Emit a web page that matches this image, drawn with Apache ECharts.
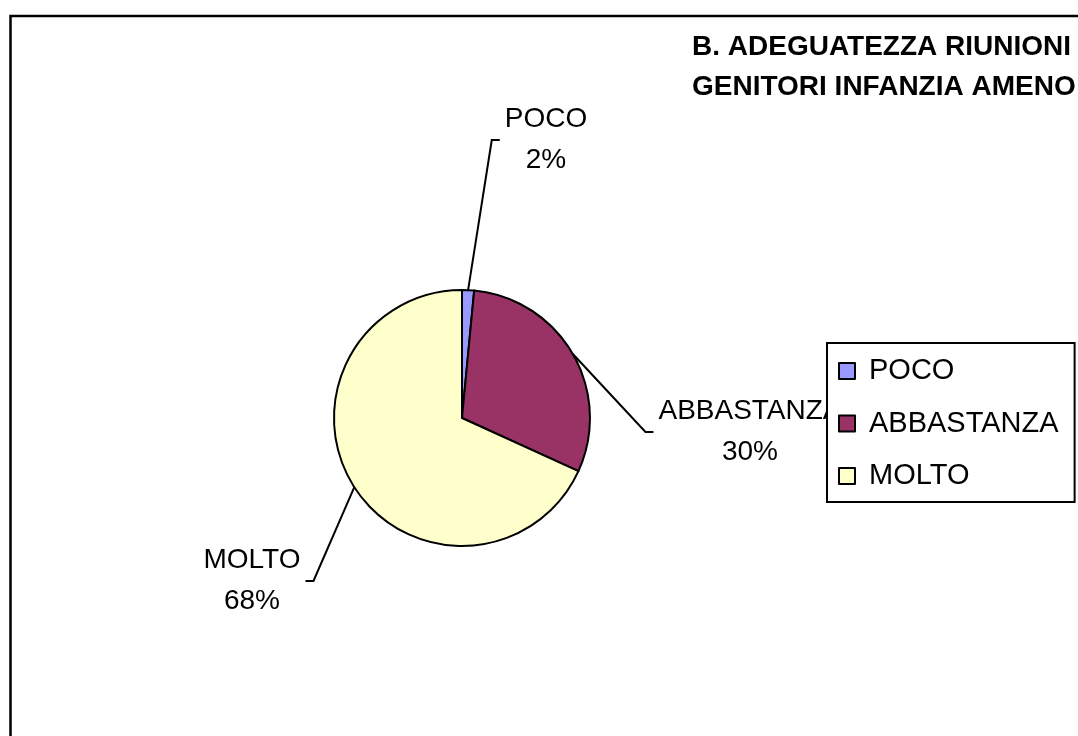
<!DOCTYPE html>
<html>
<head>
<meta charset="utf-8">
<script src="https://cdn.jsdelivr.net/npm/echarts@6/dist/echarts.min.js"></script>
<style>
  html, body { margin: 0; padding: 0; background: #fff; }
  #chart { width: 1078px; height: 736px; }
</style>
</head>
<body>
<div id="chart"></div>
<script>
// ---- data ----
var categories = ['POCO', 'ABBASTANZA', 'MOLTO'];
var values = [1, 20, 45];
var colors = ['#9999FF', '#993366', '#FFFFCC'];
var titleLines = ['B. ADEGUATEZZA RIUNIONI', 'GENITORI INFANZIA AMENO'];

// ---- layout / style ----
var CENTER = [462, 418];
var RADIUS = 128;
var START_ANGLE = 90;
var FONT = '"Liberation Sans", Arial, sans-serif';
// label centre offsets from pie centre (style, px)
var LABEL_OFFSET = [[84, -278], [288, 14], [-210, 163]];
var LINE_GAP = 5;
var TICK = 8;

var total = values.reduce(function (a, b) { return a + b; }, 0);
var midAngles = [];
(function () {
  var acc = 0;
  for (var i = 0; i < values.length; i++) {
    var midFrac = (acc + values[i] / 2) / total;
    midAngles.push((START_ANGLE - midFrac * 360) * Math.PI / 180);
    acc += values[i];
  }
})();

var chart = echarts.init(document.getElementById('chart'), null, { renderer: 'canvas' });
var option = {
  animation: false,
  backgroundColor: '#ffffff',
  title: {
    text: titleLines.join('\n'),
    left: 692,
    top: 27,
    padding: 0,
    textStyle: { fontFamily: FONT, fontSize: 28, fontWeight: 'bold', color: '#000', lineHeight: 40 }
  },
  graphic: [{
    type: 'rect',
    shape: { x: 10.5, y: 16, width: 1200, height: 1000 },
    style: { fill: 'none', stroke: '#000', lineWidth: 2.5 },
    z: 0, silent: true
  }],
  legend: {
    orient: 'vertical',
    left: 827,
    top: 343,
    data: categories,
    icon: 'rect',
    itemWidth: 16,
    itemHeight: 16,
    itemGap: 22.5,
    backgroundColor: '#ffffff',
    borderColor: '#000',
    borderWidth: 2,
    borderRadius: 0,
    padding: [13, 16, 11, 11],
    itemStyle: { borderColor: '#000', borderWidth: 2 },
    textStyle: { fontFamily: FONT, fontSize: 29, color: '#000', lineHeight: 30, padding: [0, 0, 0, 9] },
    z: 10
  },
  series: [{
    type: 'pie',
    center: CENTER,
    radius: RADIUS,
    startAngle: START_ANGLE,
    clockwise: true,
    percentPrecision: 0,
    avoidLabelOverlap: false,
    data: categories.map(function (c, i) {
      return { name: c, value: values[i], itemStyle: { color: colors[i] } };
    }),
    itemStyle: { borderColor: '#000', borderWidth: 2 },
    label: {
      show: true,
      position: 'outside',
      formatter: '{b}\n{d}%',
      fontFamily: FONT,
      fontSize: 28,
      lineHeight: 41,
      color: '#000'
    },
    labelLine: {
      show: true,
      length: 20,
      length2: 8,
      lineStyle: { color: '#000', width: 2 }
    },
    emphasis: { disabled: true },
    labelLayout: function (p) {
      var i = p.dataIndex;
      var off = LABEL_OFFSET[i];
      var lx = CENTER[0] + off[0];
      var ly = CENTER[1] + off[1];
      var w = p.labelRect.width;
      var a = midAngles[i];
      var ex = CENTER[0] + RADIUS * Math.cos(a);
      var ey = CENTER[1] - RADIUS * Math.sin(a);
      var side = off[0] >= 0 ? -1 : 1;
      var endX = lx + side * (w / 2 + LINE_GAP);
      var tickX = endX + side * TICK;
      return {
        x: lx, y: ly, align: 'center', verticalAlign: 'middle',
        labelLinePoints: [[ex, ey], [tickX, ly], [endX, ly]]
      };
    }
  }]
};
chart.setOption(option);
</script>
</body>
</html>
